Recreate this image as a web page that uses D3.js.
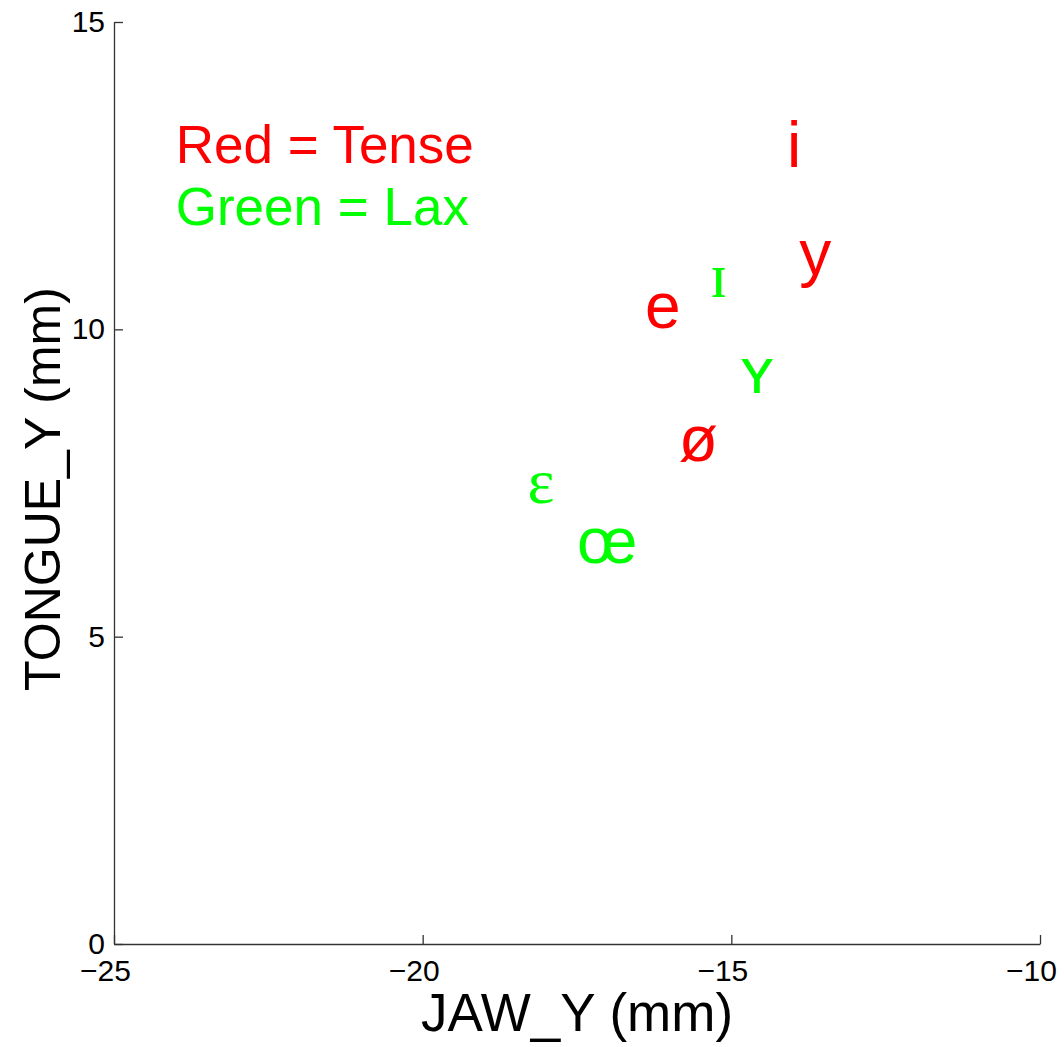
<!DOCTYPE html>
<html lang="en" dir="ltr">
  <head>
    <meta charset="utf-8">
    <script type="text/javascript" src="https://d3js.org/d3.v7.min.js"></script>
    <title>Tense and lax vowels: jaw and tongue</title>
    <style media="screen">
      body { margin: 0; background: #fff; }
      svg { display: block; }
      text { font-family: "Liberation Sans", Arial, Helvetica, sans-serif; }
      .axis path, .axis line { stroke: #333; stroke-width: 1.3; }
      .axis text { fill: #000; font-size: 30px; }
    </style>
  </head>
  <body>
    <script type="text/javascript">

    // vowel symbols and where they sit (jaw, tongue in mm)
    var vowels  = ["i", "y", "e", "\u026A", "\u028F", "\u00F8", "\u025B", "\u0153"];
    var jawY    = [-14.1, -13.9, -16.4, -15.35, -14.85, -15.85, -18.3, -17.5];
    var tongueY = [13.0, 11.25, 10.38, 10.88, 9.33, 8.22, 7.52, 6.56];
    var group   = ["Tense", "Tense", "Tense", "Lax", "Lax", "Tense", "Lax", "Lax"];

    var legendLabels = ["Red = Tense", "Green = Lax"];
    var legendX = [-24, -24];
    var legendY = [13, 12];

    var xTicks = [-25, -20, -15, -10];
    var yTicks = [0, 5, 10, 15];

    var colours = {Tense: "#ff0000", Lax: "#00ff00"};
    var serifGlyphs = ["\u025B", "\u026A"];

    var margin = {top:22, left:114, bottom:103, right:24},
    width = 1064 - margin.left - margin.right,
    height = 1047 - margin.top - margin.bottom;

    var x = d3.scaleLinear()
          .domain([-25, -10])
          .range([0, width]);

    var y = d3.scaleLinear()
          .domain([0, 15])
          .range([height, 0]);

    var svg = d3.select("body")
      .append('svg')
        .attr('width', width + margin.left + margin.right)
        .attr('height', height + margin.top + margin.bottom)
      .append('g')
        .attr('transform', 'translate(' + [margin.left, margin.top] + ')');

    var data = vowels.map(function(v, i) {
      return {label: v, jaw: jawY[i], tongue: tongueY[i], group: group[i]};
    });

    // axes, ticks pointing inward like matlab
    var xAxis = svg.append("g")
        .attr("class", "axis")
        .attr("transform", "translate(0," + height + ")")
        .call(d3.axisBottom(x)
          .tickValues(xTicks)
          .tickSizeInner(-9)
          .tickSizeOuter(0)
          .tickPadding(16));

    // matlab centres the digits, so the minus hangs out to the left
    xAxis.selectAll("text").attr("dx", "-9px");

    svg.append("g")
        .attr("class", "axis")
        .call(d3.axisLeft(y)
          .tickValues(yTicks)
          .tickSizeInner(-9)
          .tickSizeOuter(0)
          .tickPadding(9));

    // axis labels
    svg.append("text")
        .attr("x", width / 2)
        .attr("y", height + 87)
        .attr("text-anchor", "middle")
        .attr("font-size", "53px")
        .text("JAW_Y (mm)");

    svg.append("text")
        .attr("transform", "translate(" + (60 - margin.left) + "," + (height / 2 + 6) + ") rotate(-90)")
        .attr("text-anchor", "middle")
        .attr("font-size", "50px")
        .text("TONGUE_Y (mm)");

    // vowel symbols
    svg.selectAll(".vowel")
        .data(data)
        .enter()
      .append("text")
        .attr("class", "vowel")
        .attr("x", function(d){ return x(d.jaw); })
        .attr("y", function(d){ return y(d.tongue); })
        .attr("dominant-baseline", "central")
        .attr("font-size", "64px")
        .style("font-family", function(d){
          return serifGlyphs.indexOf(d.label) >= 0 ? '"Liberation Serif", "DejaVu Serif", serif' : null;
        })
        .attr("fill", function(d){ return colours[d.group]; })
        .text(function(d){ return d.label; });

    // colour key
    svg.selectAll(".key")
        .data(legendLabels)
        .enter()
      .append("text")
        .attr("class", "key")
        .attr("x", function(d, i){ return x(legendX[i]); })
        .attr("y", function(d, i){ return y(legendY[i]); })
        .attr("dominant-baseline", "central")
        .attr("font-size", "53px")
        .attr("fill", function(d, i){ return i === 0 ? colours.Tense : colours.Lax; })
        .text(function(d){ return d; });

    </script>
  </body>
</html>
